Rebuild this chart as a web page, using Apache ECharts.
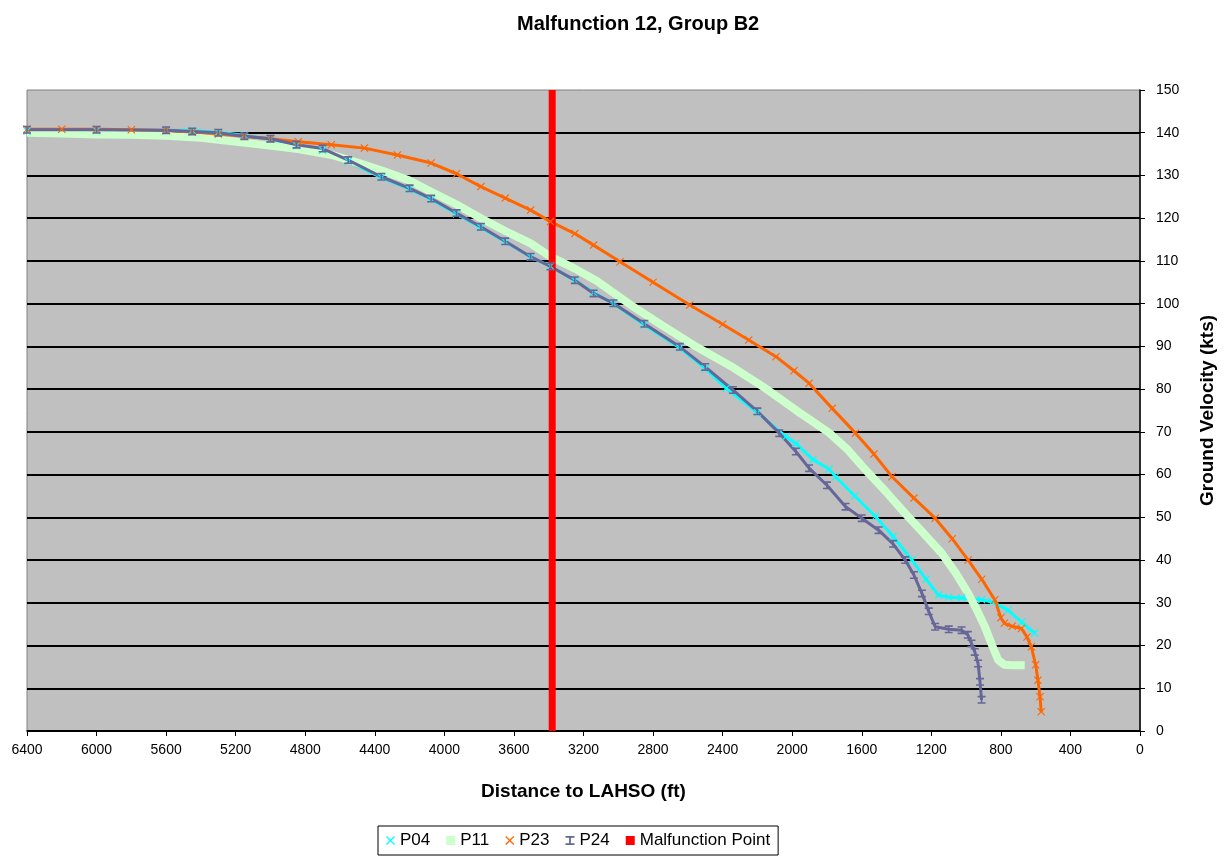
<!DOCTYPE html>
<html>
<head>
<meta charset="utf-8">
<title>Malfunction 12, Group B2</title>
<script src="https://cdn.jsdelivr.net/npm/echarts@6/dist/echarts.min.js"></script>
<style>
  html, body { margin: 0; padding: 0; background: #ffffff; }
  #chart { width: 1225px; height: 859px; }
</style>
</head>
<body>
<div id="chart"></div>
<script>
// [distance to LAHSO (ft), ground velocity (kts)]
var p04 = [
  [6400,140.4],[6000,140.5],[5600,140.6],[5450,140.5],[5300,140.1],[5150,139.4],[5000,138.5],
  [4850,137.0],[4700,135.9],[4553,133.3],[4362,129.5],[4200,126.8],[4076,124.4],[3930,121.0],
  [3790,117.8],[3650,114.5],[3504,110.9],[3390,108.8],[3250,105.4],[3142,102.6],[3028,100.0],
  [2850,95.0],[2646,89.6],[2500,84.8],[2379,80.2],[2200,74.5],[2036,68.9],[1979,67.3],
  [1880,63.5],[1788,61.3],[1750,59.5],[1640,55.0],[1521,50.2],[1420,45.5],[1311,40.0],
  [1230,35.5],[1159,31.8],[1100,31.3],[1026,31.1],[911,30.7],[850,30.2],[759,28.3],
  [680,25.5],[606,22.9]
];
var p11 = [
  [6400,140.0],[6200,139.8],[6000,139.6],[5800,139.5],[5600,139.3],[5400,138.8],[5222,138.0],
  [5030,137.1],[4840,136.2],[4648,134.8],[4500,133.0],[4343,130.9],[4200,128.8],[4076,126.2],
  [3930,123.2],[3790,120.0],[3650,117.0],[3504,114.1],[3390,111.0],[3250,108.2],[3123,105.3],
  [2932,99.8],[2750,95.0],[2551,89.9],[2350,85.3],[2169,80.6],[1979,75.1],[1788,69.8],
  [1680,65.8],[1560,60.3],[1450,55.5],[1350,50.9],[1250,46.5],[1140,41.6],[1060,37.0],
  [988,32.2],[940,28.5],[892,24.4],[850,20.0],[816,16.6],[780,15.5],[740,15.4],[700,15.4],
  [663,15.4]
];
var p23 = [
  [6400,140.8],[6200,140.8],[6000,140.8],[5800,140.7],[5600,140.5],[5450,140.2],[5300,139.7],
  [5150,139.2],[5000,138.6],[4840,137.9],[4650,137.2],[4460,136.4],[4270,134.8],[4076,132.9],
  [3930,130.4],[3790,127.4],[3650,124.7],[3504,121.9],[3390,119.2],[3250,116.4],[3142,113.7],
  [2990,109.8],[2800,105.0],[2589,99.7],[2400,95.2],[2250,91.5],[2093,87.6],[1990,84.3],
  [1903,81.4],[1770,75.5],[1636,69.7],[1530,64.8],[1426,59.5],[1300,54.5],[1178,49.8],
  [1080,45.0],[988,40.0],[910,35.5],[835,30.7],[800,26.5],[780,25.2],[735,24.5],[682,24.0],
  [650,22.0],[625,19.7],[600,15.5],[587,11.9],[575,8.0],[568,4.5]
];
var p24 = [
  [6400,140.7],[6000,140.7],[5600,140.6],[5450,140.3],[5300,140.0],[5150,139.2],[5000,138.6],
  [4850,137.2],[4700,136.3],[4553,133.6],[4362,129.7],[4200,127.0],[4076,124.6],[3930,121.2],
  [3790,118.0],[3650,114.6],[3504,111.0],[3390,108.7],[3250,105.5],[3142,102.4],[3028,100.1],
  [2850,95.3],[2646,89.9],[2500,85.2],[2341,79.8],[2200,74.8],[2074,69.7],[1979,65.4],
  [1903,61.5],[1800,57.5],[1693,52.5],[1600,49.8],[1503,47.0],[1420,43.8],[1350,40.0],
  [1300,36.5],[1254,32.2],[1215,28.0],[1178,24.4],[1100,23.8],[1026,23.6],[990,22.5],
  [969,20.5],[950,18.5],[931,15.8],[920,11.5],[911,7.3]
];
var malfunctionPoint = [[3380,0],[3380,150]];

var xMax = 6400, xStep = 400;
var yMax = 150, yStep = 10;

var crossPath = 'path://M0,1L1,0L5,4L9,0L10,1L6,5L10,9L9,10L5,6L1,10L0,9L4,5Z';
var barPath = 'path://M0,0H10V2H6V8H10V10H0V8H4V2H0Z';
var font = 'Liberation Sans, Arial, sans-serif';

var myChart = echarts.init(document.getElementById('chart'));

var option = {
  animation: false,
  backgroundColor: '#ffffff',
  title: {
    text: 'Malfunction 12, Group B2',
    left: 512,
    top: 9,
    textStyle: { fontFamily: font, fontSize: 20, fontWeight: 'bold', color: '#000' }
  },
  legend: {
    left: 378,
    top: 826,
    padding: [6, 8, 6, 8],
    borderColor: '#000',
    borderWidth: 1,
    itemWidth: 9,
    itemHeight: 9,
    itemGap: 16,
    textStyle: { fontFamily: font, fontSize: 17, color: '#000' },
    data: [
      { name: 'P04', icon: crossPath },
      { name: 'P11', icon: 'rect' },
      { name: 'P23', icon: crossPath },
      { name: 'P24', icon: barPath },
      { name: 'Malfunction Point', icon: 'rect' }
    ]
  },
  grid: {
    left: 27,
    right: 79,
    top: 90,
    bottom: 128,
    show: true,
    backgroundColor: '#c0c0c0',
    borderColor: '#808080',
    borderWidth: 1
  },
  xAxis: {
    type: 'value',
    inverse: true,
    min: 0,
    max: xMax,
    interval: xStep,
    name: 'Distance to LAHSO (ft)',
    nameLocation: 'middle',
    nameGap: 51,
    nameTextStyle: { fontFamily: font, fontSize: 19, fontWeight: 'bold', color: '#000' },
    axisLine: { lineStyle: { color: '#000', width: 1.5 } },
    axisTick: { length: 5, lineStyle: { color: '#000' } },
    axisLabel: {
      fontFamily: font, fontSize: 14, color: '#000', margin: 12,
      formatter: function (v) { return String(v); }
    },
    splitLine: { show: false }
  },
  yAxis: {
    type: 'value',
    position: 'right',
    min: 0,
    max: yMax,
    interval: yStep,
    name: 'Ground Velocity (kts)',
    nameLocation: 'middle',
    nameGap: 58,
    nameRotate: 90,
    nameTextStyle: { fontFamily: font, fontSize: 19, fontWeight: 'bold', color: '#000' },
    axisLine: { show: true, lineStyle: { color: '#000', width: 1.5 } },
    axisTick: { show: true, length: 5, lineStyle: { color: '#000' } },
    axisLabel: { fontFamily: font, fontSize: 14, color: '#000', margin: 16 },
    splitLine: { show: true, showMaxLine: false, lineStyle: { color: '#000', width: 2 } }
  },
  series: [
    {
      name: 'P04',
      type: 'line',
      data: p04,
      color: '#00ffff',
      symbol: crossPath,
      symbolSize: 8,
      lineStyle: { width: 3 }
    },
    {
      name: 'P11',
      type: 'line',
      data: p11,
      color: '#ccffcc',
      symbol: 'rect',
      symbolSize: 8,
      showSymbol: false,
      lineStyle: { width: 8 }
    },
    {
      name: 'P23',
      type: 'line',
      data: p23,
      color: '#ff6600',
      symbol: crossPath,
      symbolSize: 8,
      lineStyle: { width: 3 }
    },
    {
      name: 'P24',
      type: 'line',
      data: p24,
      color: '#666699',
      symbol: barPath,
      symbolSize: 8,
      lineStyle: { width: 3 }
    },
    {
      name: 'Malfunction Point',
      type: 'line',
      data: malfunctionPoint,
      color: '#ff0000',
      symbol: 'none',
      clip: false,
      lineStyle: { width: 7 }
    }
  ]
};

myChart.setOption(option);
</script>
</body>
</html>
